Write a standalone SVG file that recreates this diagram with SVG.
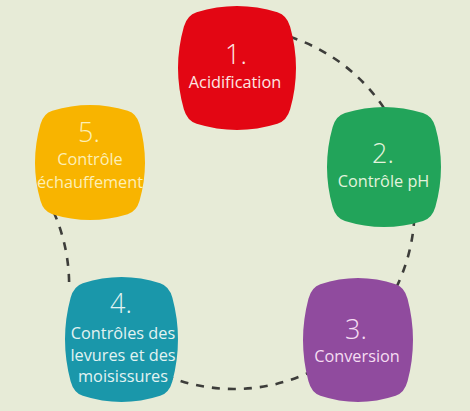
<svg xmlns="http://www.w3.org/2000/svg" xmlns:xlink="http://www.w3.org/1999/xlink" width="470" height="411" viewBox="0 0 470 411">
  <style>
    .num { font-family: "Open Sans", "Noto Sans", sans-serif; font-size: 27px; font-weight: 300; text-anchor: middle; }
    .lbl { font-family: "Open Sans", "Noto Sans", sans-serif; font-size: 16.3px; font-weight: 500; text-anchor: middle; }
    .dash { fill: none; stroke: #3d3d3a; stroke-width: 2.6; stroke-dasharray: 8 8; }
  </style>
  <defs>
    <path id="pillow" d="M -50,-40 Q -46.9,-51.2 -38,-54 Q 0,-66 38,-54 Q 46.9,-51.2 50,-40 Q 61,0 50,40 Q 46.9,51.2 38,54 Q 0,66 -38,54 Q -46.9,51.2 -50,40 Q -61,0 -50,-40 Z"/>
  </defs>
  <rect width="470" height="411" fill="#e7ebd7"/>
  <g id="connectors">
    <path class="dash" d="M 289.8,36.8 A 180.5,180.5 0 0 1 387.1,112.9"/>
    <path class="dash" d="M 414.3,217.9 A 180.5,180.5 0 0 1 394.8,290.4"/>
    <path class="dash" d="M 313.1,370.7 A 180.5,180.5 0 0 1 166.4,375.9"/>
    <path class="dash" d="M 69.1,281.9 A 180.5,180.5 0 0 0 53.5,211.6"/>
  </g>
  <g id="node1">
    <use xlink:href="#pillow" href="#pillow" transform="translate(237,68) scale(1.063,1.033)" fill="#e30613"/>
    <text class="num" x="236" y="64" fill="#fde6e2">1.</text>
    <text class="lbl" x="235" y="88" fill="#fde6e2">Acidification</text>
  </g>
  <g id="node2">
    <use xlink:href="#pillow" href="#pillow" transform="translate(384,167) scale(1.027,1.0)" fill="#22a45a"/>
    <text class="num" x="383" y="163" fill="#e3f3dd">2.</text>
    <text class="lbl" x="383.5" y="187" fill="#e3f3dd">Contrôle pH</text>
  </g>
  <g id="node3">
    <use xlink:href="#pillow" href="#pillow" transform="translate(358,340) scale(0.991,1.033)" fill="#904b9e"/>
    <text class="num" x="356" y="339" fill="#f5ddf2">3.</text>
    <text class="lbl" x="357" y="362" fill="#f5ddf2">Conversion</text>
  </g>
  <g id="node4">
    <use xlink:href="#pillow" href="#pillow" transform="translate(121.5,339.5) scale(1.018,1.042)" fill="#1a97aa"/>
    <text class="num" x="121" y="313" fill="#e2f3f2">4.</text>
    <text class="lbl" x="123" y="339" fill="#e2f3f2">Contrôles des</text>
    <text class="lbl" x="123" y="361" fill="#e2f3f2">levures et des</text>
    <text class="lbl" x="123" y="382" fill="#e2f3f2">moisissures</text>
  </g>
  <g id="node5">
    <use xlink:href="#pillow" href="#pillow" transform="translate(90,162.5) scale(0.991,0.958)" fill="#f8b400"/>
    <text class="num" x="89" y="142" fill="#fdefb6">5.</text>
    <text class="lbl" x="90" y="165" fill="#fdefb6">Contrôle</text>
    <text class="lbl" x="90" y="188" fill="#fdefb6">échauffement</text>
  </g>
</svg>
